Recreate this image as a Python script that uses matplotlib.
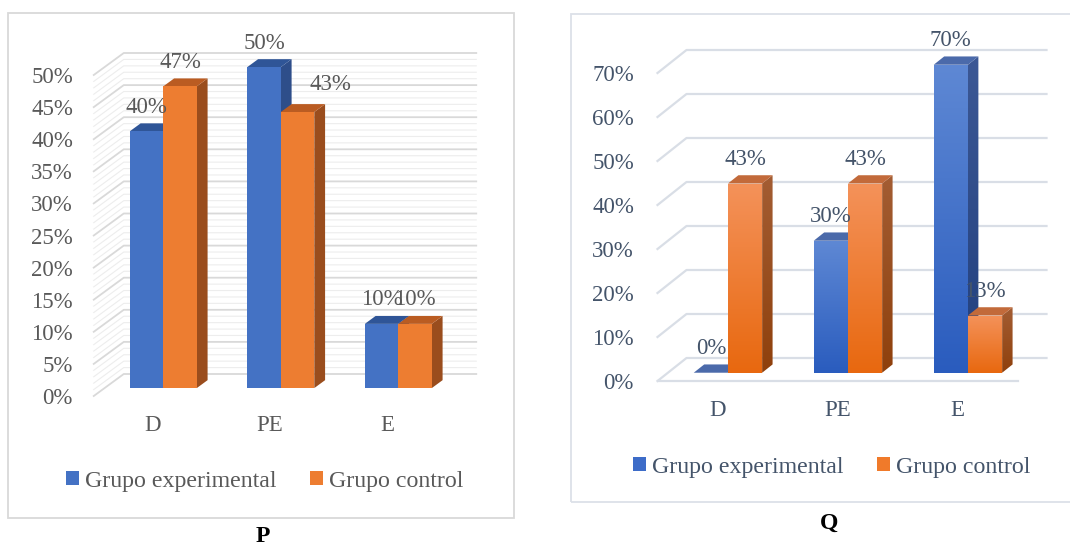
import numpy as np
import matplotlib
matplotlib.use('Agg')
import matplotlib.pyplot as plt
from matplotlib.patches import Polygon, Rectangle, Patch
from matplotlib.colors import LinearSegmentedColormap

plt.rcParams['font.family'] = ['Liberation Serif', 'DejaVu Serif']

# data
categories = ['D', 'PE', 'E']
series_names = ['Grupo experimental', 'Grupo control']
p_exp = [40, 50, 10]
p_ctrl = [47, 43, 10]
q_exp = [0, 30, 70]
q_ctrl = [43, 43, 13]
p_ticks = [0, 5, 10, 15, 20, 25, 30, 35, 40, 45, 50]
q_ticks = [0, 10, 20, 30, 40, 50, 60, 70]

W, H = 1070, 546
fig = plt.figure(figsize=(W / 100, H / 100), dpi=100)


def px_axes(x0, y0, x1, y1):
    # axes from pixel box (top-left origin)
    return fig.add_axes([x0 / W, 1 - y1 / H, (x1 - x0) / W, (y1 - y0) / H])


def grad_poly(ax, verts, c_top, c_bot, z):
    poly = Polygon(verts, closed=True, fc='none', ec='none', clip_on=False)
    ax.add_patch(poly)
    xs = [v[0] for v in verts]
    ys = [v[1] for v in verts]
    if max(ys) - min(ys) < 1e-6:
        return
    cmap = LinearSegmentedColormap.from_list('g', [c_bot, c_top])
    arr = np.linspace(0, 1, 128).reshape(-1, 1)
    im = ax.imshow(arr, cmap=cmap, origin='lower', aspect='auto',
                   extent=[min(xs), max(xs), min(ys), max(ys)],
                   interpolation='bilinear', zorder=z, clip_path=poly)
    im.set_clip_box(fig.bbox)


def draw_panel(ax, vals, ticks, minor, wall_px, colors, grad, txt_color,
               grid_c, minor_c, grid_lw, floor_edge, lab_shift):
    ymax = ticks[-1]
    ax.set_xlim(-0.5, 2.5)
    ax.set_ylim(0, ymax)
    bb = ax.get_window_extent()
    ppx = bb.width / 3.0
    ppy = bb.height / ymax
    DX = wall_px[0] / ppx
    DY = wall_px[1] / ppy
    f1, f2 = 0.36, 0.72
    w = 0.285

    # walls / gridlines
    for t in np.arange(0, ymax + 0.01, minor) if minor else []:
        if t in ticks:
            continue
        ax.plot([-0.5, -0.5 + DX, 2.5 + DX], [t, t + DY, t + DY],
                color=minor_c, lw=0.8, zorder=1, clip_on=False)
    for t in ticks:
        ax.plot([-0.5, -0.5 + DX, 2.5 + DX], [t, t + DY, t + DY],
                color=grid_c, lw=grid_lw, zorder=1.2, clip_on=False)
    if floor_edge:
        ax.plot([-0.5, 2.5], [0, 0], color=grid_c, lw=grid_lw, zorder=1.2,
                clip_on=False)

    bdx = (f2 - f1) * DX
    bdy = (f2 - f1) * DY
    for s, v_list in enumerate(vals):
        front_c, top_c, side_c = colors[s]
        for i, v in enumerate(v_list):
            xa = i - w + s * w + f1 * DX
            xb = xa + w
            ya = f1 * DY
            yt = ya + v
            z = 3 + s
            front = [(xa, ya), (xb, ya), (xb, yt), (xa, yt)]
            top = [(xa, yt), (xb, yt), (xb + bdx, yt + bdy), (xa + bdx, yt + bdy)]
            side = [(xb, ya), (xb + bdx, ya + bdy), (xb + bdx, yt + bdy), (xb, yt)]
            if grad:
                grad_poly(ax, side, side_c[0], side_c[1], z)
                ax.add_patch(Polygon(top, closed=True, fc=top_c, ec='none',
                                     zorder=z, clip_on=False))
                grad_poly(ax, front, front_c[0], front_c[1], z)
            else:
                ax.add_patch(Polygon(side, closed=True, fc=side_c, ec='none',
                                     zorder=z, clip_on=False))
                ax.add_patch(Polygon(top, closed=True, fc=top_c, ec='none',
                                     zorder=z, clip_on=False))
                ax.add_patch(Polygon(front, closed=True, fc=front_c, ec='none',
                                     zorder=z, clip_on=False))
            off = lab_shift.get((s, i), (0, 24))
            ax.annotate(f'{v}%', (xa + w / 2, yt), xytext=off,
                        textcoords='offset pixels', ha='center', va='center',
                        fontsize=16.5, color=txt_color, zorder=6,
                        annotation_clip=False)

    ax.set_xlim(-0.5, 2.5)
    ax.set_ylim(0, ymax)
    ax.set_yticks(ticks)
    ax.set_yticklabels([f'{t}%' for t in ticks])
    ax.set_xticks(range(len(categories)))
    ax.set_xticklabels(categories)
    for sp in ax.spines.values():
        sp.set_visible(False)
    ax.set_facecolor('none')


# ---- panel P ----
ax1 = px_axes(93.75, 75, 446.25, 396)
draw_panel(ax1, [p_exp, p_ctrl], p_ticks, 1, (30, 22),
           [('#4472C4', '#2F5597', '#2E4E8A'), ('#ED7D31', '#BA5C22', '#9A4D1D')],
           False, '#595959', '#D9D9D9', '#EDEDED', 1.3, False,
           {(1, 1): (33, 28)})
ax1.tick_params(axis='y', length=0, pad=15, labelsize=16.5, labelcolor='#595959')
ax1.tick_params(axis='x', length=0, pad=14, labelsize=16.5, labelcolor='#595959')

# ---- panel Q ----
ax2 = px_axes(657.5, 73, 1017.5, 381)
draw_panel(ax2, [q_exp, q_ctrl], q_ticks, None, (29, 23),
           [(('#5E88D4', '#2A5CBE'), '#4B6AAA', ('#3C5895', '#213F7E')),
            (('#F4925A', '#E8680F'), '#C26A3A', ('#A35D33', '#8F400C'))],
           True, '#44546A', '#D9DEE6', None, 1.6, True, {})
ax2.tick_params(axis='y', length=0, pad=17, labelsize=16.5, labelcolor='#44546A')
ax2.tick_params(axis='x', length=0, pad=14, labelsize=16.5, labelcolor='#44546A')

# legends
h1 = [Patch(fc='#4472C4', ec='none'), Patch(fc='#ED7D31', ec='none')]
leg1 = fig.legend(h1, series_names, loc='center', bbox_to_anchor=(265 / W, 1 - 481 / H),
                  ncol=2, frameon=False, fontsize=17.2, handlelength=0.55,
                  handleheight=0.55, handletextpad=0.25, columnspacing=1.4,
                  borderpad=0)
for t in leg1.get_texts():
    t.set_color('#595959')
h2 = [Patch(fc='#3D6CC8', ec='none'), Patch(fc='#F07A2A', ec='none')]
leg2 = fig.legend(h2, series_names, loc='center', bbox_to_anchor=(831.5 / W, 1 - 467 / H),
                  ncol=2, frameon=False, fontsize=17.2, handlelength=0.55,
                  handleheight=0.55, handletextpad=0.25, columnspacing=1.4,
                  borderpad=0)
for t in leg2.get_texts():
    t.set_color('#44546A')

# chart frames
fig.add_artist(Rectangle((8 / W, 1 - 518 / H), 506 / W, 505 / H, fill=False,
                         ec='#D9D9D9', lw=1.3, transform=fig.transFigure))
fig.add_artist(Rectangle((571 / W, 1 - 502 / H), 510 / W, 488 / H, fill=False,
                         ec='#DCE0E8', lw=1.3, transform=fig.transFigure))

fig.text(263 / W, 1 - 536 / H, 'P', fontsize=17, fontweight='bold', ha='center', va='center')
fig.text(829 / W, 1 - 523 / H, 'Q', fontsize=17, fontweight='bold', ha='center', va='center')

fig.savefig('out.png', dpi=100, facecolor='white')
